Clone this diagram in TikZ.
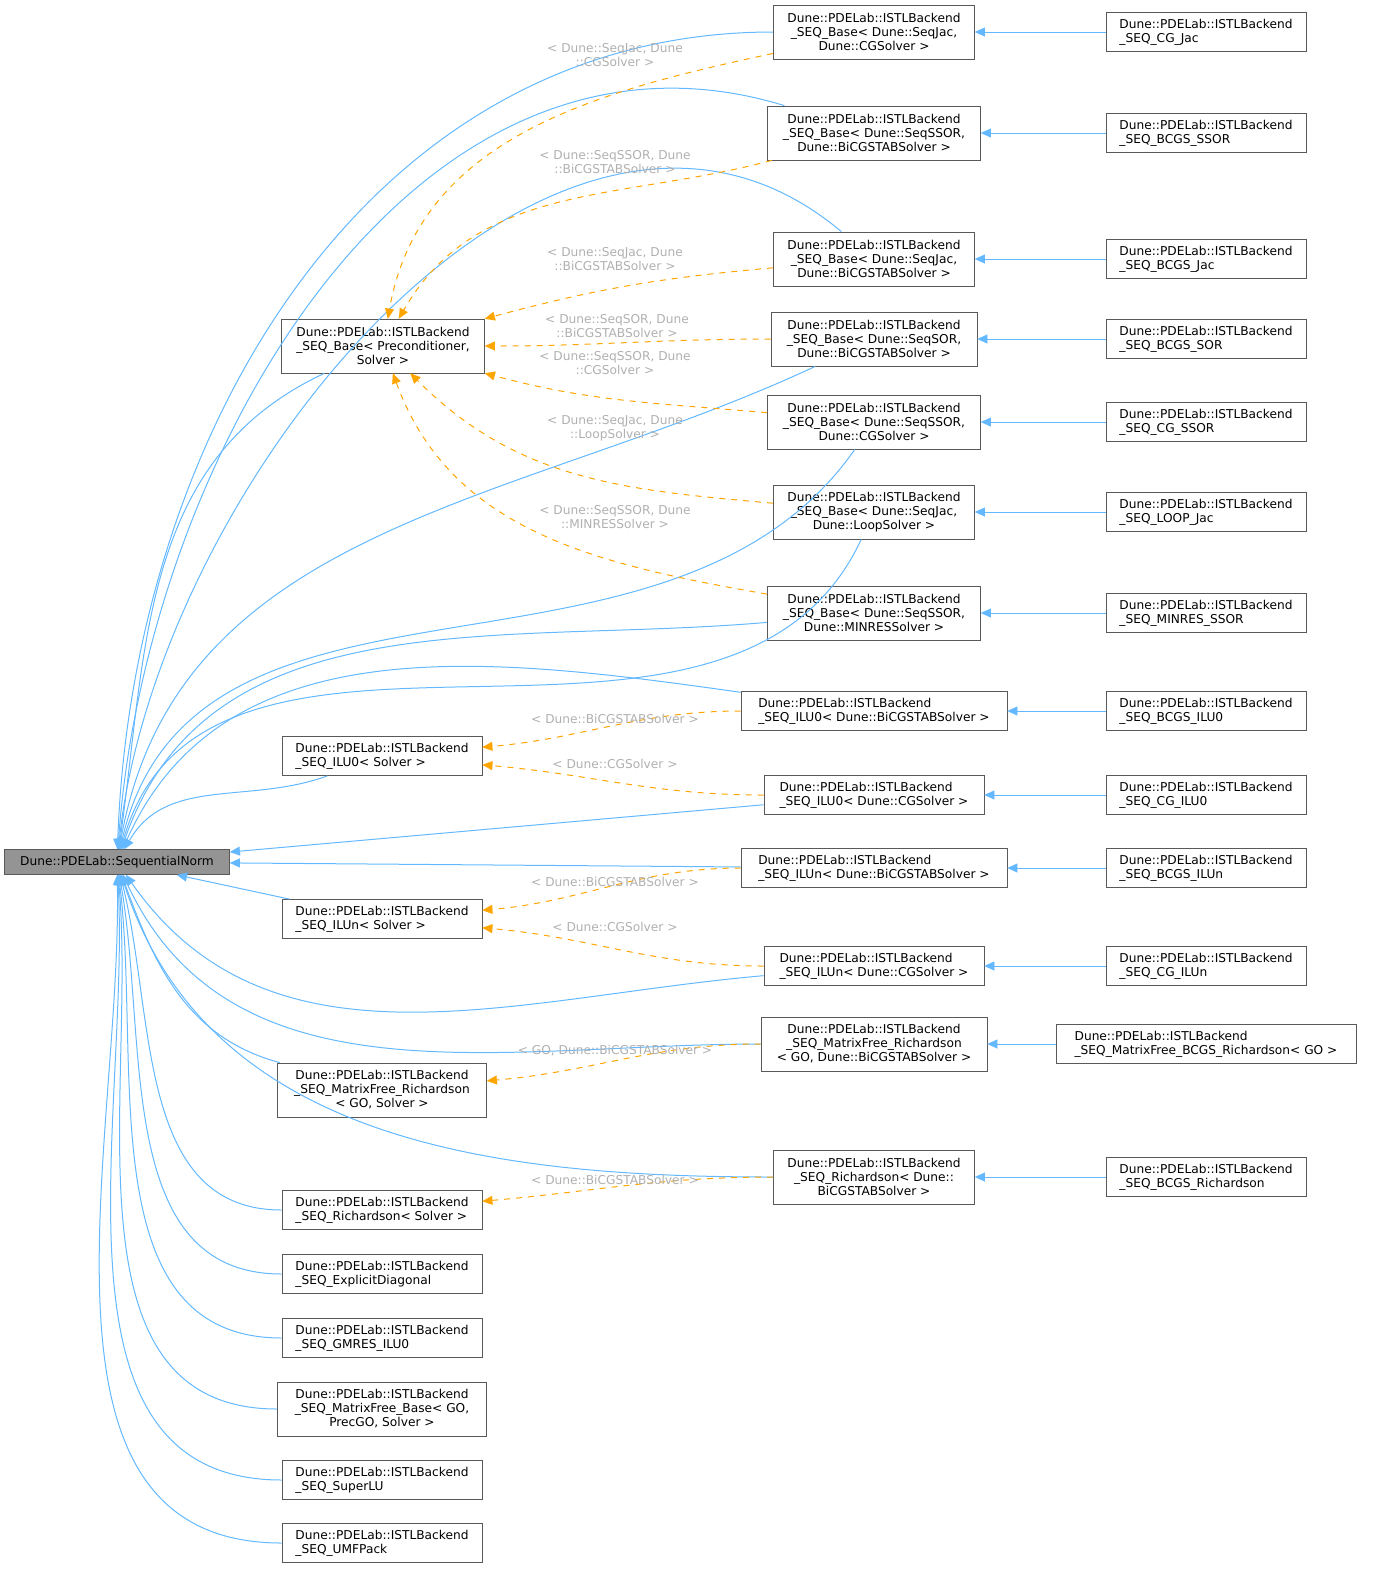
\documentclass[tikz,border=0pt]{standalone}
\usepackage{fontspec}
\setmainfont{DejaVu Sans}
\usepackage{tikz}
\usetikzlibrary{arrows.meta}

\definecolor{inhblue}{HTML}{63B8FF}
\definecolor{deporange}{HTML}{FFA500}
\definecolor{lblgray}{HTML}{B0B0B0}

\begin{document}
\begin{tikzpicture}[x=0.5pt,y=-0.5pt,>={Stealth[length=5pt,width=4.5pt,inset=0pt,line width=0.01pt]},
    cls/.style={draw=black!65,fill=white,font=\fontsize{6.1}{7}\selectfont,inner sep=1.5pt,align=left},
    cc/.style={cls,align=center},
    w/.style={minimum width=#1*0.5pt},
    h2/.style={minimum height=19.5pt},
    h3/.style={minimum height=27pt},
    inh/.style={color=inhblue,->,line width=0.5pt},
    dep/.style={color=deporange,->,dashed,line width=0.5pt},
    lbl/.style={text=lblgray,font=\fontsize{6.1}{7}\selectfont,align=center,inner sep=0pt}]
    \useasboundingbox (0,0) rectangle (1379,1587);

    % root
    \node[cls,w=225,minimum height=12.5pt,fill=black!42] (root) at (117,862) {Dune::PDELab::SequentialNorm};

    % templates
    \node[cc,w=203,h3] (base) at (383,346) {Dune::PDELab::ISTLBackend\\\_SEQ\_Base< Preconditioner,\\Solver >};
    \node[cls,w=200,h2] (ilu0) at (382,756) {Dune::PDELab::ISTLBackend\\\_SEQ\_ILU0< Solver >};
    \node[cls,w=200,h2] (ilun) at (382,919) {Dune::PDELab::ISTLBackend\\\_SEQ\_ILUn< Solver >};
    \node[cc,w=209,h3] (mfrich) at (382,1090) {Dune::PDELab::ISTLBackend\\\_SEQ\_MatrixFree\_Richardson\\< GO, Solver >};
    \node[cls,w=200,h2] (rich) at (382,1210) {Dune::PDELab::ISTLBackend\\\_SEQ\_Richardson< Solver >};
    \node[cls,w=200,h2] (expdiag) at (382,1274) {Dune::PDELab::ISTLBackend\\\_SEQ\_ExplicitDiagonal};
    \node[cls,w=200,h2] (gmres) at (382,1338) {Dune::PDELab::ISTLBackend\\\_SEQ\_GMRES\_ILU0};
    \node[cc,w=209,h3] (mfbase) at (382,1409) {Dune::PDELab::ISTLBackend\\\_SEQ\_MatrixFree\_Base< GO,\\PrecGO, Solver >};
    \node[cls,w=200,h2] (superlu) at (382,1480) {Dune::PDELab::ISTLBackend\\\_SEQ\_SuperLU};
    \node[cls,w=200,h2] (umf) at (382,1543) {Dune::PDELab::ISTLBackend\\\_SEQ\_UMFPack};

    % instantiations
    \node[cc,w=201,h3] (jaccg) at (874,32) {Dune::PDELab::ISTLBackend\\\_SEQ\_Base< Dune::SeqJac,\\Dune::CGSolver >};
    \node[cc,w=213,h3] (ssorbicg) at (874,133) {Dune::PDELab::ISTLBackend\\\_SEQ\_Base< Dune::SeqSSOR,\\Dune::BiCGSTABSolver >};
    \node[cc,w=201,h3] (jacbicg) at (874,259) {Dune::PDELab::ISTLBackend\\\_SEQ\_Base< Dune::SeqJac,\\Dune::BiCGSTABSolver >};
    \node[cc,w=206,h3] (sorbicg) at (874,339) {Dune::PDELab::ISTLBackend\\\_SEQ\_Base< Dune::SeqSOR,\\Dune::BiCGSTABSolver >};
    \node[cc,w=213,h3] (ssorcg) at (874,422) {Dune::PDELab::ISTLBackend\\\_SEQ\_Base< Dune::SeqSSOR,\\Dune::CGSolver >};
    \node[cc,w=201,h3] (jacloop) at (874,512) {Dune::PDELab::ISTLBackend\\\_SEQ\_Base< Dune::SeqJac,\\Dune::LoopSolver >};
    \node[cc,w=213,h3] (ssorminres) at (874,613) {Dune::PDELab::ISTLBackend\\\_SEQ\_Base< Dune::SeqSSOR,\\Dune::MINRESSolver >};
    \node[cls,w=266,h2] (ilu0bicg) at (874,711) {Dune::PDELab::ISTLBackend\\\_SEQ\_ILU0< Dune::BiCGSTABSolver >};
    \node[cls,w=220,h2] (ilu0cg) at (874,795) {Dune::PDELab::ISTLBackend\\\_SEQ\_ILU0< Dune::CGSolver >};
    \node[cls,w=266,h2] (ilunbicg) at (874,868) {Dune::PDELab::ISTLBackend\\\_SEQ\_ILUn< Dune::BiCGSTABSolver >};
    \node[cls,w=220,h2] (iluncg) at (874,966) {Dune::PDELab::ISTLBackend\\\_SEQ\_ILUn< Dune::CGSolver >};
    \node[cc,w=226,h3] (mfrichbicg) at (874,1044) {Dune::PDELab::ISTLBackend\\\_SEQ\_MatrixFree\_Richardson\\< GO, Dune::BiCGSTABSolver >};
    \node[cc,w=201,h3] (richbicg) at (874,1177) {Dune::PDELab::ISTLBackend\\\_SEQ\_Richardson< Dune::\\BiCGSTABSolver >};

    % concrete classes
    \node[cls,w=200,h2] (cgjac) at (1206,32) {Dune::PDELab::ISTLBackend\\\_SEQ\_CG\_Jac};
    \node[cls,w=200,h2] (bcgsssor) at (1206,133) {Dune::PDELab::ISTLBackend\\\_SEQ\_BCGS\_SSOR};
    \node[cls,w=200,h2] (bcgsjac) at (1206,259) {Dune::PDELab::ISTLBackend\\\_SEQ\_BCGS\_Jac};
    \node[cls,w=200,h2] (bcgssor) at (1206,339) {Dune::PDELab::ISTLBackend\\\_SEQ\_BCGS\_SOR};
    \node[cls,w=200,h2] (cgssor) at (1206,422) {Dune::PDELab::ISTLBackend\\\_SEQ\_CG\_SSOR};
    \node[cls,w=200,h2] (loopjac) at (1206,512) {Dune::PDELab::ISTLBackend\\\_SEQ\_LOOP\_Jac};
    \node[cls,w=200,h2] (minresssor) at (1206,613) {Dune::PDELab::ISTLBackend\\\_SEQ\_MINRES\_SSOR};
    \node[cls,w=200,h2] (bcgsilu0) at (1206,711) {Dune::PDELab::ISTLBackend\\\_SEQ\_BCGS\_ILU0};
    \node[cls,w=200,h2] (cgilu0) at (1206,795) {Dune::PDELab::ISTLBackend\\\_SEQ\_CG\_ILU0};
    \node[cls,w=200,h2] (bcgsilun) at (1206,868) {Dune::PDELab::ISTLBackend\\\_SEQ\_BCGS\_ILUn};
    \node[cls,w=200,h2] (cgilun) at (1206,966) {Dune::PDELab::ISTLBackend\\\_SEQ\_CG\_ILUn};
    \node[cls,w=300,h2] (mfbcgsrich) at (1206,1044) {Dune::PDELab::ISTLBackend\\\_SEQ\_MatrixFree\_BCGS\_Richardson< GO >};
    \node[cls,w=200,h2] (bcgsrich) at (1206,1177) {Dune::PDELab::ISTLBackend\\\_SEQ\_BCGS\_Richardson};

    % concrete -> instantiation
    \path[inh]
    (cgjac) edge (jaccg)
    (bcgsssor) edge (ssorbicg)
    (bcgsjac) edge (jacbicg)
    (bcgssor) edge (sorbicg)
    (cgssor) edge (ssorcg)
    (loopjac) edge (jacloop)
    (minresssor) edge (ssorminres)
    (bcgsilu0) edge (ilu0bicg)
    (cgilu0) edge (ilu0cg)
    (bcgsilun) edge (ilunbicg)
    (cgilun) edge (iluncg)
    (mfbcgsrich) edge (mfrichbicg)
    (bcgsrich) edge (richbicg);

    % everything -> root
    \path[inh]
    (jaccg) edge[out=180,in=88] (root)
    (ssorbicg) edge[out=163,in=86] (root)
    (jacbicg) edge[out=140,in=84] (root)
    (sorbicg) edge[out=205,in=80] (root)
    (ssorcg) edge[out=235,in=77] (root)
    (jacloop) edge[out=245,in=74] (root)
    (ssorminres) edge[out=185,in=71] (root)
    (ilu0bicg) edge[out=172,in=66] (root)
    (ilu0cg) edge (root)
    (ilunbicg) edge (root)
    (iluncg) edge[out=185,in=-55] (root)
    (mfrichbicg) edge[out=180,in=-65] (root)
    (richbicg) edge[out=180,in=-72] (root)
    (base) edge[out=205,in=82] (root)
    (ilu0) edge[out=200,in=60] (root)
    (ilun) edge (root)
    (mfrich) edge[out=165,in=-70] (root)
    (rich) edge[out=180,in=-76] (root)
    (expdiag) edge[out=180,in=-80] (root)
    (gmres) edge[out=180,in=-83] (root)
    (mfbase) edge[out=180,in=-85] (root)
    (superlu) edge[out=180,in=-87] (root)
    (umf) edge[out=180,in=-89] (root);

    % template arguments
    \path[dep]
    (jaccg) edge[out=192,in=80] (base)
    (ssorbicg) edge[out=195,in=60] (base)
    (jacbicg) edge[out=185,in=15] (base)
    (sorbicg) edge[out=180,in=0] (base)
    (ssorcg) edge[out=175,in=-15] (base)
    (jacloop) edge[out=175,in=-45] (base)
    (ssorminres) edge[out=170,in=-70] (base)
    (ilu0bicg) edge[out=180,in=5] (ilu0)
    (ilu0cg) edge[out=180,in=-5] (ilu0)
    (ilunbicg) edge[out=180,in=5] (ilun)
    (iluncg) edge[out=180,in=-5] (ilun)
    (mfrichbicg) edge[out=180,in=5] (mfrich)
    (richbicg) edge[out=180,in=5] (rich);

    \node[lbl] (l1) at (615,55) {< Dune::SeqJac, Dune\\::CGSolver >};
    \node[lbl] (l2) at (615,162) {< Dune::SeqSSOR, Dune\\::BiCGSTABSolver >};
    \node[lbl] (l3) at (615,259) {< Dune::SeqJac, Dune\\::BiCGSTABSolver >};
    \node[lbl] (l4) at (617,326) {< Dune::SeqSOR, Dune\\::BiCGSTABSolver >};
    \node[lbl] (l5) at (615,363) {< Dune::SeqSSOR, Dune\\::CGSolver >};
    \node[lbl] (l6) at (615,428) {< Dune::SeqJac, Dune\\::LoopSolver >};
    \node[lbl] (l7) at (615,517) {< Dune::SeqSSOR, Dune\\::MINRESSolver >};
    \node[lbl] (l8) at (615,719) {< Dune::BiCGSTABSolver >};
    \node[lbl] (l9) at (615,764) {< Dune::CGSolver >};
    \node[lbl] (l10) at (615,882) {< Dune::BiCGSTABSolver >};
    \node[lbl] (l11) at (615,927) {< Dune::CGSolver >};
    \node[lbl] (l12) at (615,1051) {< GO, Dune::BiCGSTABSolver >};
    \node[lbl] (l13) at (615,1180) {< Dune::BiCGSTABSolver >};
\end{tikzpicture}
\end{document}
